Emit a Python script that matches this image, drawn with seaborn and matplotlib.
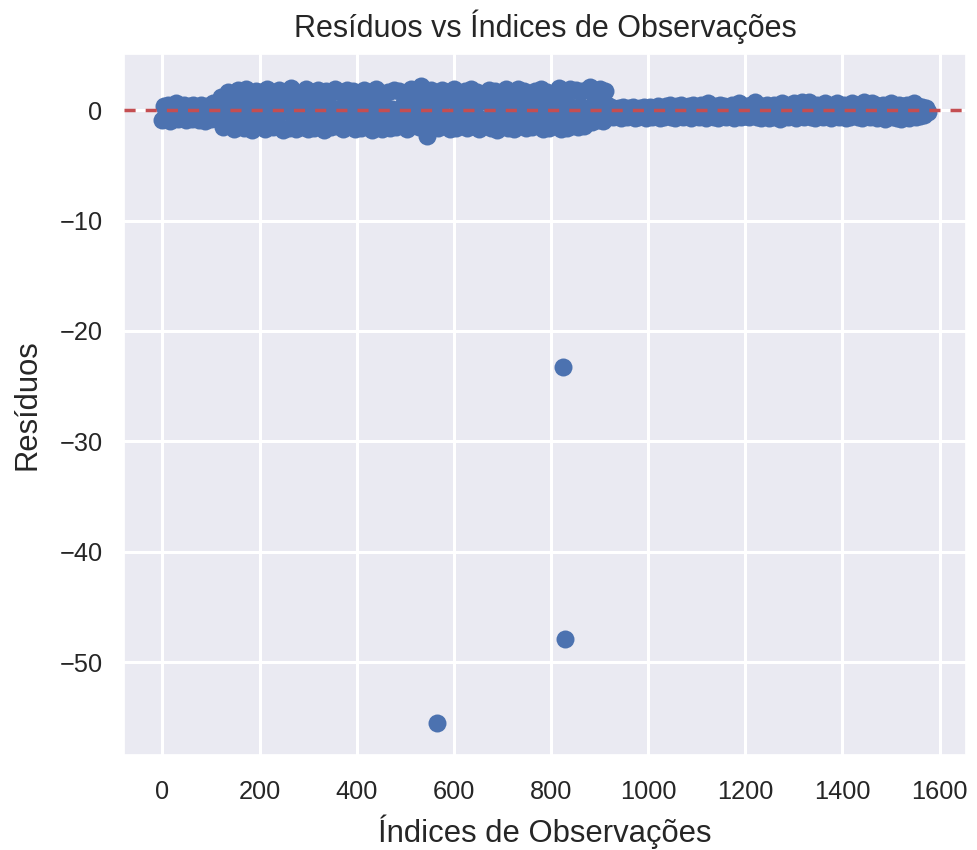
import numpy as np
import pandas as pd
import matplotlib
matplotlib.use("Agg")
import matplotlib.pyplot as plt
import seaborn as sns

# Residuals sampled every 4th observation, in three stretches of the series
residuals_start = [
    -0.9, 0.4, -0.3, 0.5, -1.0, 0.2, -0.7, 0.6, -0.8, 0.3,
    -0.5, 0.5, -0.9, 0.1, 0.4, -0.8, 0.5, -0.6, 0.3, -0.9,
    0.5, -0.4, -1.0, 0.4, 0.1, -0.8, 0.6, -0.7, 0.3, -0.9,
]
residuals_wide = [
    1.2, -1.5, 0.4, -1.1, 1.6, -0.5, 1.5, -1.7, 0.2, 1.8,
    -1.3, 0.6, -1.6, 1.9, -0.3, 1.4, -1.8, 0.8, 1.7, -0.6,
    -1.4, 1.6, 0.1, -1.7, 1.9, -0.7, 1.3, -1.5, 0.5, -1.3,
    1.8, -0.2, -1.8, 1.5, 0.7, -1.6, 2.0, -0.6, 1.6, -1.7,
    0.3, 1.4, -1.5, -0.8, 1.9, -1.7, 0.5, 1.6, -1.6, -0.1,
    1.8, -1.2, 0.8, -1.8, 1.7, -0.4, 1.5, -1.5, 0.2, 1.9,
    -1.4, -0.7, 1.6, -1.7, 0.6, 1.8, -1.1, -0.3, 1.7, -1.7,
    0.9, 1.4, -1.6, -0.5, 1.8, -1.3, 0.4, 1.6, -1.8, -0.2,
    1.9, -1.4, 0.7, -1.7, 1.5, -0.6, 1.6, -1.6, 0.1, 1.8,
    -1.5, -0.8, 1.7, -1.3, 0.5, 1.3, -1.7, -0.3, 1.9, -1.2,
    0.6, 1.6, -1.5, 2.2, -0.4, -1.7, -2.3, 0.8, 1.8, -1.4,
    -0.6, 1.5, -1.6, 0.3, 1.8, -1.2, -0.7, 1.6, -1.7, 0.9,
    1.9, -1.6, -0.2, 1.4, -1.3, 0.6, 1.7, -1.6, -0.5, 1.9,
    -1.4, 0.4, 1.6, -1.7, -0.8, 1.3, -1.1, 0.7, 1.8, -1.6,
    -0.3, 1.7, -1.8, 0.5, 1.5, -1.4, -0.6, 1.9, -1.6, 0.2,
    1.4, -1.7, -0.4, 1.9, -1.3, 0.8, 1.7, -1.6, -0.2, 1.2,
    -1.5, 0.6, 1.7, -1.2, -0.7, 1.9, -1.7, 0.3, 1.6, -1.6,
    -0.5, 1.5, -1.3, 0.9, 2.0, -1.7, -0.3, 1.6, -1.6, 0.5,
    1.9, -1.4, -0.8, 1.8, -1.5, 0.4, 1.7, -1.4, -0.6, 1.9,
    2.1, -1.1, 0.6, 1.8, -0.9, 1.9, -0.2, -1.0, 1.7, 0.5,
    0.3,
]
residuals_narrow = [
    0.3, -0.6, 0.1, -0.5, 0.2, -0.7, 0.3, -0.4, -0.6, 0.2,
    -0.5, 0.3, -0.7, 0.1, -0.6, 0.2, -0.4, 0.3, -0.7, 0.0,
    0.3, -0.6, 0.2, -0.5, 0.4, -0.7, 0.1, -0.6, 0.4, -0.4,
    0.5, -0.6, 0.3, -0.7, 0.4, -0.3, 0.5, -0.6, 0.2, -0.5,
    0.4, -0.7, 0.5, -0.4, 0.3, -0.6, 0.5, -0.5, 0.2, -0.7,
    0.6, -0.5, 0.3, -0.6, 0.4, -0.7, 0.5, -0.3, 0.4, -0.6,
    0.2, -0.5, 0.5, -0.7, 0.4, -0.4, 0.6, -0.6, 0.1, -0.5,
    0.4, -0.6, 0.5, -0.3, 0.7, -0.6, 0.2, -0.7, 0.4, -0.5,
    0.5, -0.7, 0.3, -0.6, 0.5, -0.4, 0.4, -0.8, 0.6, -0.5,
    0.3, -0.6, 0.5, -0.4, 0.6, -0.7, 0.4, -0.5, 0.7, -0.6,
    0.5, -0.4, 0.7, -0.6, 0.3, -0.7, 0.5, -0.5, 0.4, -0.6,
    0.6, -0.5, 0.2, -0.7, 0.5, -0.4, 0.6, -0.6, 0.3, -0.5,
    0.5, -0.7, 0.4, -0.6, 0.6, -0.3, 0.5, -0.6, 0.4, -0.7,
    0.7, -0.5, 0.5, -0.6, 0.6, -0.4, 0.5, -0.7, 0.3, -0.5,
    0.5, -0.8, 0.4, -0.5, 0.6, -0.6, 0.3, -0.7, 0.5, -0.8,
    0.4, -0.6, 0.5, -0.7, 0.3, -0.5, 0.6, -0.6, 0.4, -0.5,
    0.3, -0.4, 0.2, -0.2,
]
sample_step = 4

# Large negative residuals
outlier_index = [566, 825, 829]
outlier_residual = [-55.5, -23.3, -47.9]

sampled = residuals_start + residuals_wide + residuals_narrow
df = pd.DataFrame({
    "indice": list(np.arange(len(sampled)) * sample_step) + outlier_index,
    "residuo": sampled + outlier_residual,
})

sns.set_theme(style="darkgrid", rc={"grid.linewidth": 2.2})
plt.rcParams["font.family"] = ["Liberation Sans", "DejaVu Sans"]

fig, ax = plt.subplots(figsize=(9.77, 8.5), dpi=100)
fig.subplots_adjust(left=0.127, right=0.989, top=0.9365, bottom=0.112)

sns.scatterplot(data=df, x="indice", y="residuo", ax=ax, s=168,
                color="#4C72B0", linewidth=0, zorder=2)
ax.axhline(0, color="#C44E52", linestyle=(0, (3.2, 2.9)), linewidth=2.5,
           zorder=3)

ax.set_xticks([0, 200, 400, 600, 800, 1000, 1200, 1400, 1600])
ax.tick_params(axis="x", labelsize=18.3, pad=12.5)
ax.tick_params(axis="y", labelsize=18.3, pad=9.5)
ax.set_title("Resíduos vs Índices de Observações", fontsize=22, pad=12)
ax.set_xlabel("Índices de Observações", fontsize=22.3, labelpad=7)
ax.set_ylabel("Resíduos", fontsize=22.3, labelpad=12)

fig.savefig("out.png", dpi=100)
